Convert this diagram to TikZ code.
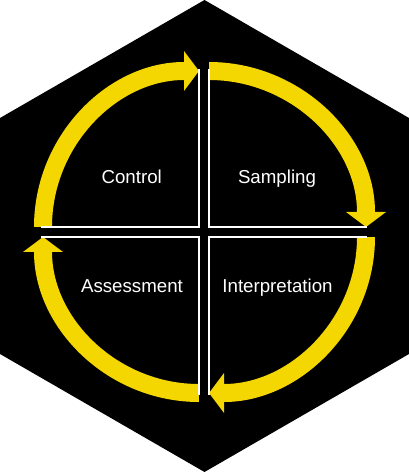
\documentclass[tikz,border=0pt]{standalone}
\usepackage{fontspec}
\setmainfont{Liberation Sans}
\usepackage{tikz}
\usetikzlibrary{arrows.meta, positioning}
\definecolor{cycleyellow}{HTML}{F4D600}

\begin{document}
\begin{tikzpicture}[
x=1pt, y=1pt, thick,
cycle arrow/.style={cycleyellow, line width=18pt, -{Triangle[length=15pt,width=40pt,line width=0pt]}},
quadrant line/.style={draw=white, line width=2pt},
step label/.style={text=white, anchor=base, inner sep=0pt, font=\fontsize{18.7}{22}\selectfont}
	]
	\useasboundingbox (0,0) rectangle (409,472);
	% Hexagon
	\fill[black] (204.5,472) -- (409,354) -- (409,118) -- (204.5,0) -- (0,118) -- (0,354) -- cycle;
	% Arc ends
	\coordinate (ul1) at (43,245);
	\coordinate (ul2) at (199,401);
	\coordinate (ur1) at (209,401);
	\coordinate (ur2) at (366,245);
	\coordinate (lr1) at (366,235);
	\coordinate (lr2) at (209,79);
	\coordinate (ll1) at (199,79);
	\coordinate (ll2) at (43,235);
	% Nodes
	\node[step label] (C) at (131.7,288.7) {Control};
	\node[step label] (S) at (277,288.7) {Sampling};
	\node[step label] (A) at (132,179.7) {Assessment};
	\node[step label] (I) at (277.5,179.7) {Interpretation};
	% Edges
	\path[every edge/.style={draw, cycle arrow}]
	(ul1) edge[out=90,in=180] (ul2)
	(ur1) edge[out=0,in=90] (ur2)
	(lr1) edge[out=-90,in=0] (lr2)
	(ll1) edge[out=180,in=-90] (ll2);
	% Quadrant lines
	\draw[quadrant line] (41,245) -- (199,245) -- (199,403);
	\draw[quadrant line] (209,403) -- (209,245) -- (367,245);
	\draw[quadrant line] (367,235) -- (209,235) -- (209,77);
	\draw[quadrant line] (199,77) -- (199,235) -- (41,235);
\end{tikzpicture}
\end{document}
